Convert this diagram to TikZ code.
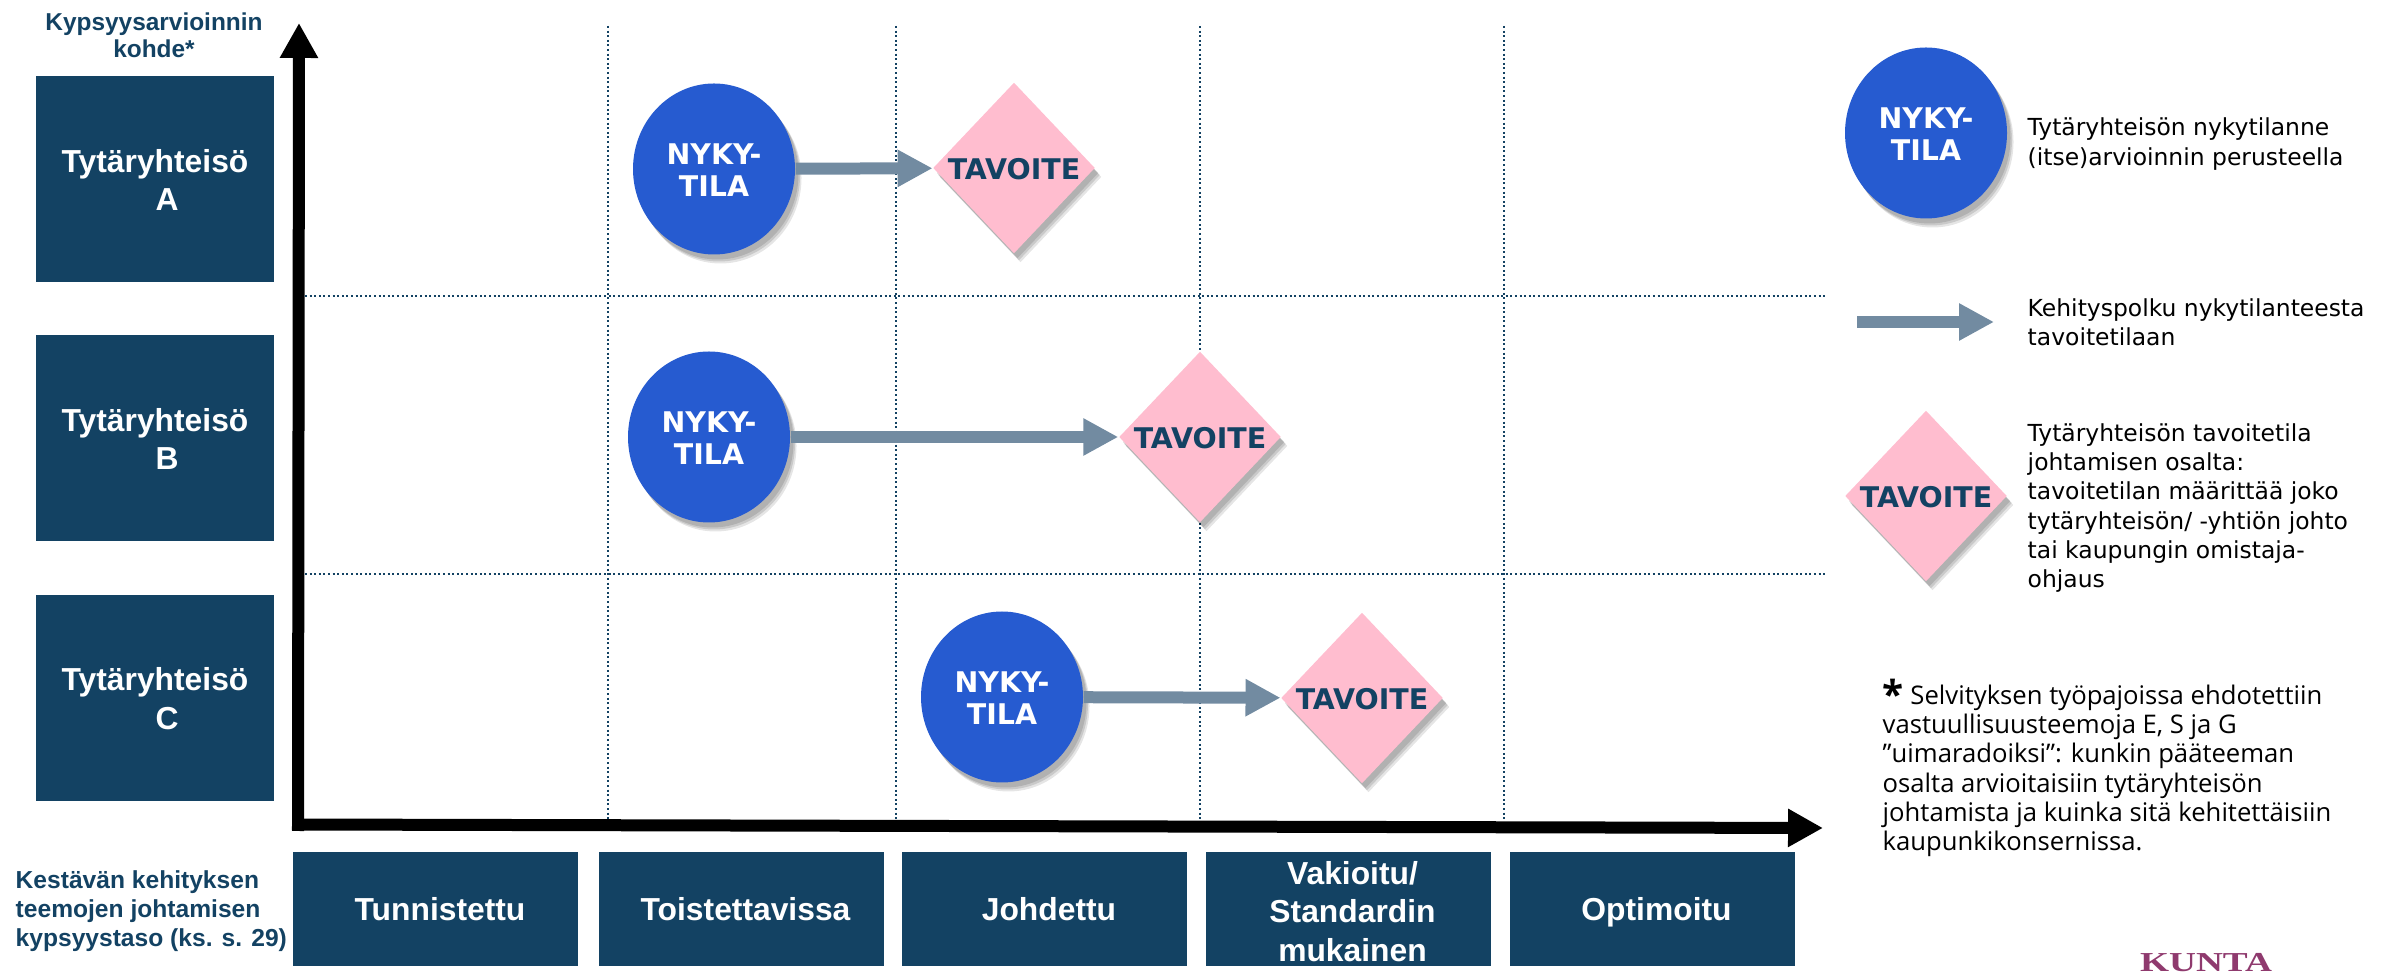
\documentclass[tikz,border=0pt]{standalone}
\usepackage{fontspec}
\setmainfont{Liberation Sans}
\newfontfamily\legendfont{DejaVu Sans}
\newfontfamily\notefont{Open Sans}
\newfontfamily\logofont{Liberation Serif}
\usepackage{xcolor}
\usetikzlibrary{shapes.geometric,shadows,arrows.meta}
\definecolor{navy}{HTML}{134263}
\definecolor{stateblue}{HTML}{265BD0}
\definecolor{goalpink}{HTML}{FFBDCF}
\definecolor{pathgrey}{HTML}{728BA1}
\definecolor{logopurple}{HTML}{8F3A6E}
\newcommand\unitlabel[1]{\rule{0pt}{7pt}Tytäryhteisö\\\hspace*{.24cm}#1}
\newcommand\tierlabel[1]{\hspace*{.09cm}\raisebox{0pt}[.72em][0pt]{#1}}
\tikzset{
  softshadow/.style={drop shadow={shadow xshift=.035cm,shadow yshift=-.05cm,fill=black,opacity=.12},
    drop shadow={shadow xshift=.05cm,shadow yshift=-.07cm,fill=black,opacity=.12},
    drop shadow={shadow xshift=.065cm,shadow yshift=-.09cm,fill=black,opacity=.1}},
  levelbox/.style={rectangle,fill=navy,text=white,align=center,inner sep=0pt,font=\fontsize{9.05}{10.9}\selectfont\bfseries},
  unitbox/.style={levelbox,minimum width=2.38cm,minimum height=2.06cm},
  tierbox/.style={levelbox,minimum width=2.85cm,minimum height=1.14cm},
  nowstate/.style={ellipse,fill=stateblue,text=white,align=center,inner sep=0pt,minimum width=1.62cm,minimum height=1.71cm,
    font=\legendfont\fontsize{8.1}{9.1}\selectfont\bfseries,softshadow},
  goalstate/.style={diamond,aspect=1,fill=goalpink,text=navy,inner sep=0pt,minimum width=1.62cm,minimum height=1.71cm,
    font=\legendfont\fontsize{8.1}{9.1}\selectfont\bfseries,softshadow},
  pathline/.style={draw=pathgrey,line width=.12cm,-{Triangle[length=.35cm,width=.35cm,fill=pathgrey]}},
  axisline/.style={draw=black,line width=.12cm,-{Triangle[length=.35cm,width=.36cm]}},
  gridline/.style={draw=navy,line width=.02cm,dash pattern=on .02cm off .026cm},
  axistitle/.style={text=navy,font=\fontsize{6.95}{7.7}\selectfont\bfseries,inner sep=0pt},
  legendtext/.style={align=left,inner sep=0pt,anchor=west,font=\legendfont\fontsize{6.67}{8.33}\selectfont},
}
\begin{document}
\begin{tikzpicture}
  \useasboundingbox (0,0) rectangle (23.82,9.73);
  % grid
  \coordinate (va) at (6.08,9.47);  \coordinate (vab) at (6.08,1.54);
  \coordinate (vb) at (8.96,9.47);  \coordinate (vbb) at (8.96,1.54);
  \coordinate (vc) at (12.00,9.47); \coordinate (vcb) at (12.00,1.54);
  \coordinate (vd) at (15.04,9.47); \coordinate (vdb) at (15.04,1.54);
  \coordinate (ha) at (3.05,6.77);  \coordinate (hae) at (18.25,6.77);
  \coordinate (hb) at (3.05,3.99);  \coordinate (hbe) at (18.25,3.99);
  \draw[gridline] (va) -- (vab);
  \draw[gridline] (vb) -- (vbb);
  \draw[gridline] (vc) -- (vcb);
  \draw[gridline] (vd) -- (vdb);
  \draw[gridline] (ha) -- (hae);
  \draw[gridline] (hb) -- (hbe);
  % axes
  \coordinate (ybase) at (2.98,1.42);
  \coordinate (ytip) at (2.99,9.50);
  \coordinate (xbase) at (2.92,1.485);
  \coordinate (xtip) at (18.23,1.45);
  \draw[axisline] (ybase) -- (ytip);
  \draw[axisline] (xbase) -- (xtip);
  % left column
  \node[axistitle,align=center] (unittitle) at (1.54,9.38) {Kypsyysarvioinnin\\kohde*};
  \node[unitbox] (unita) at (1.55,7.94) {\unitlabel{A}};
  \node[unitbox] (unitb) at (1.55,5.35) {\unitlabel{B}};
  \node[unitbox] (unitc) at (1.55,2.75) {\unitlabel{C}};
  % bottom row
  \node[axistitle,align=left,anchor=west,font=\fontsize{7.0}{8.2}\selectfont\bfseries] (tiertitle) at (.15,.62) {Kestävän kehityksen\\teemojen johtamisen\\kypsyystaso (ks. s. 29)};
  \node[tierbox] (tiera) at (4.355,.64) {\tierlabel{Tunnistettu}};
  \node[tierbox] (tierb) at (7.41,.64) {\tierlabel{Toistettavissa}};
  \node[tierbox] (tierc) at (10.445,.64) {\tierlabel{Johdettu}};
  \node[tierbox] (tierd) at (13.48,.64) {\rule{0pt}{7.9pt}\hspace*{.09cm}Vakioitu/\\\hspace*{.09cm}Standardin\\\hspace*{.09cm}mukainen};
  \node[tierbox] (tiere) at (16.52,.64) {\tierlabel{Optimoitu}};
  % states
  \node[nowstate] (nowa) at (7.14,8.04) {\rule{0pt}{6.4pt}NYKY-\\TILA};
  \node[goalstate] (goala) at (10.14,8.05) {\rule{0pt}{6.9pt}TAVOITE};
  \node[nowstate] (nowb) at (7.09,5.36) {\rule{0pt}{6.4pt}NYKY-\\TILA};
  \node[goalstate] (goalb) at (12.00,5.36) {\rule{0pt}{6.9pt}TAVOITE};
  \node[nowstate] (nowc) at (10.02,2.76) {\rule{0pt}{6.4pt}NYKY-\\TILA};
  \node[goalstate] (goalc) at (13.62,2.75) {\rule{0pt}{6.9pt}TAVOITE};
  \draw[pathline] (nowa) -- (goala);
  \draw[pathline] (nowb) -- (goalb);
  \draw[pathline] (nowc) -- (goalc);
  % legend
  \node[nowstate] (legendnow) at (19.26,8.40) {\rule{0pt}{6.4pt}NYKY-\\TILA};
  \node[legendtext] (legendnowtext) at (20.27,8.29) {Tytäryhteisön nykytilanne\\(itse)arvioinnin perusteella};
  \coordinate (legendfrom) at (18.57,6.51);
  \coordinate (legendto) at (19.94,6.51);
  \draw[pathline] (legendfrom) -- (legendto);
  \node[legendtext] (legendpathtext) at (20.27,6.51) {Kehityspolku nykytilanteesta\\tavoitetilaan};
  \node[goalstate] (legendgoal) at (19.26,4.77) {\rule{0pt}{6.9pt}TAVOITE};
  \node[legendtext] (legendgoaltext) at (20.27,4.65) {Tytäryhteisön tavoitetila\\johtamisen osalta:\\tavoitetilan määrittää joko\\tytäryhteisön/ -yhtiön johto\\tai kaupungin omistaja-\\ohjaus};
  % note and logo
  \node[legendtext,font=\notefont\fontsize{7.3}{8.33}\selectfont] (note) at (18.82,2.05) {\raisebox{-1.2pt}{\fontsize{11}{8}\selectfont\bfseries *} Selvityksen työpajoissa ehdotettiin\\vastuullisuusteemoja E, S ja G\\”uimaradoiksi”: kunkin pääteeman\\osalta arvioitaisiin tytäryhteisön\\johtamista ja kuinka sitä kehitettäisiin\\kaupunkikonsernissa.};
  \node[inner sep=0pt,text=logopurple,font=\logofont\fontsize{7.8}{8}\selectfont\bfseries] (logo) at (22.06,.10) {\scalebox{1.36}[1]{KUNTA}};
\end{tikzpicture}
\end{document}
